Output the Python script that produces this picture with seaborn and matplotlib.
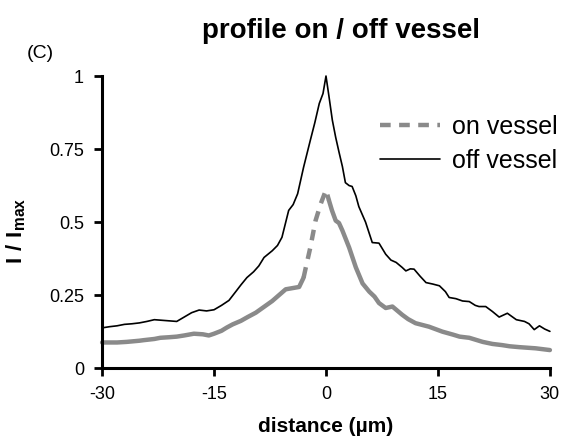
import numpy as np
import pandas as pd
import matplotlib
matplotlib.use("Agg")
import matplotlib.pyplot as plt
from matplotlib.lines import Line2D
import seaborn as sns

# off vessel profile
x_off = [-30, -29, -28, -27, -26, -25, -24, -23, -22, -21, -20, -19, -18, -17, -16,
         -15, -14, -13, -12, -11.4, -10.6, -9.7, -9.0, -8.3, -7.2, -6.5, -5.9, -5.0,
         -4.4, -3.8, -3.0, -2.1, -1.5, -0.9, -0.4, 0, 0.4, 0.85, 1.3, 1.74, 2.2, 2.6,
         3.1, 3.5, 4.0, 4.4, 5.3, 6.2, 7.1, 8.0, 8.7, 9.4, 10.2, 10.7, 11.3, 11.8,
         12.6, 13.4, 14.3, 15.2, 16.0, 16.5, 17.4, 18.3, 19.2, 20.0, 20.5, 21.4,
         22.3, 23.2, 24.3, 25.5, 26.6, 27.2, 27.9, 28.6, 29.3, 30]
y_off = [0.138, 0.142, 0.145, 0.150, 0.152, 0.155, 0.160, 0.166, 0.164, 0.162, 0.160,
         0.175, 0.190, 0.199, 0.196, 0.200, 0.215, 0.232, 0.265, 0.285, 0.310, 0.330,
         0.350, 0.379, 0.402, 0.420, 0.448, 0.540, 0.560, 0.597, 0.688, 0.780, 0.840,
         0.906, 0.940, 1.000, 0.930, 0.849, 0.790, 0.740, 0.690, 0.635, 0.625, 0.622,
         0.590, 0.553, 0.500, 0.430, 0.428, 0.390, 0.370, 0.362, 0.345, 0.333, 0.340,
         0.339, 0.315, 0.293, 0.288, 0.282, 0.262, 0.242, 0.238, 0.230, 0.228, 0.215,
         0.211, 0.211, 0.194, 0.175, 0.188, 0.166, 0.160, 0.152, 0.132, 0.145, 0.134,
         0.126]

# on vessel profile
x_on = [-30, -28, -26.7, -25, -24.4, -23, -22.2, -21, -20, -19, -17.7, -16.5, -15.7,
        -15, -14, -13.3, -12.5, -11.4, -10.5, -9.4, -8.3, -7.2, -6.3, -5.4, -4.5, -3.6,
        -3.0, -2.7, -2.1, -1.4, -0.7, 0, 0.4, 0.8, 1.3, 1.74, 2.2, 3.1, 4.0, 4.9, 5.8,
        6.5, 7.1, 8.0, 8.9, 10.2, 11.0, 12.0, 13.8, 15.6, 17.0, 17.9, 19.2, 20.1, 21.0,
        22.3, 23.6, 24.6, 25.9, 28.1, 30]
y_on = [0.088, 0.088, 0.090, 0.094, 0.096, 0.100, 0.104, 0.106, 0.108, 0.112, 0.118,
        0.116, 0.112, 0.118, 0.128, 0.139, 0.150, 0.162, 0.175, 0.190, 0.210, 0.230,
        0.250, 0.270, 0.274, 0.278, 0.310, 0.345, 0.413, 0.505, 0.563, 0.610, 0.574,
        0.540, 0.505, 0.497, 0.471, 0.413, 0.345, 0.290, 0.262, 0.245, 0.223, 0.206,
        0.211, 0.183, 0.168, 0.154, 0.142, 0.125, 0.115, 0.108, 0.104, 0.097, 0.090,
        0.083, 0.079, 0.075, 0.072, 0.068, 0.062]

x_ticks = [-30, -15, 0, 15, 30]
y_ticks = [0, 0.25, 0.5, 0.75, 1]
y_ticklabels = ["0", "0.25", "0.5", "0.75", "1"]

sns.set_style("white")
plt.rcParams['font.family'] = ['Liberation Sans', 'DejaVu Sans']
plt.rcParams['axes.unicode_minus'] = False
plt.rcParams['mathtext.fontset'] = 'custom'
plt.rcParams['mathtext.bf'] = 'Liberation Sans:bold'
plt.rcParams['mathtext.rm'] = 'Liberation Sans'
plt.rcParams['text.color'] = 'black'
plt.rcParams['axes.labelcolor'] = 'black'

off_df = pd.DataFrame({'x': x_off, 'y': y_off})
on_df = pd.DataFrame({'x': x_on, 'y': y_on})

fig = plt.figure(figsize=(5.64, 4.42), dpi=100)
ax = fig.add_axes([0.181, 0.167, 0.794, 0.661])

gray = '#8a8a8a'
dash = (0, (2.4, 1.9))

# on vessel: the steep rise shows its dashes, the dense rest looks solid
left = on_df[on_df.x <= -3.0]
mid = on_df[(on_df.x >= -3.0) & (on_df.x <= 0.4)]
right = on_df[on_df.x >= 0.4]
for part, ls in [(left, '-'), (mid, dash), (right, '-')]:
    sns.lineplot(data=part, x='x', y='y', ax=ax, color=gray, lw=3.2,
                 linestyle=ls, sort=False, estimator=None, clip_on=False)

sns.lineplot(data=off_df, x='x', y='y', ax=ax, color='black', lw=1.2,
             sort=False, estimator=None, clip_on=False)

ax.set_xlim(-30, 30)
ax.set_ylim(0, 1)
ax.set_xticks(x_ticks)
ax.set_xticklabels([str(t) for t in x_ticks])
ax.set_yticks(y_ticks)
ax.set_yticklabels(y_ticklabels)
ax.tick_params(axis='both', direction='out', length=6, width=2, labelsize=13,
               colors='black', pad=7, bottom=True, left=True)
for side in ['top', 'right']:
    ax.spines[side].set_visible(False)
for side in ['left', 'bottom']:
    ax.spines[side].set_linewidth(2.2)
    ax.spines[side].set_color('black')

ax.set_xlabel("distance (µm)", fontsize=15, fontweight='bold', labelpad=10)
ax.set_ylabel(r"$\mathbf{I\ /\ I_{max}}$", fontsize=16)
ax.yaxis.set_label_coords(-0.165, 0.47)

handles = [Line2D([], [], color=gray, lw=3.2, linestyle=dash),
           Line2D([], [], color='black', lw=1.2)]
ax.legend(handles, ["on vessel", "off vessel"], loc='upper left',
          bbox_to_anchor=(0.62, 0.866), frameon=False, fontsize=18,
          handlelength=2.4, handletextpad=0.5, borderpad=0, borderaxespad=0,
          labelspacing=0.38)

fig.text(341 / 564, 1 - 31 / 442, "profile on / off vessel", fontsize=20,
         fontweight='bold', ha='center', va='center')
fig.text(40 / 564, 1 - 53 / 442, "(C)", fontsize=14, ha='center', va='center')

plt.savefig("out.png", dpi=100)
